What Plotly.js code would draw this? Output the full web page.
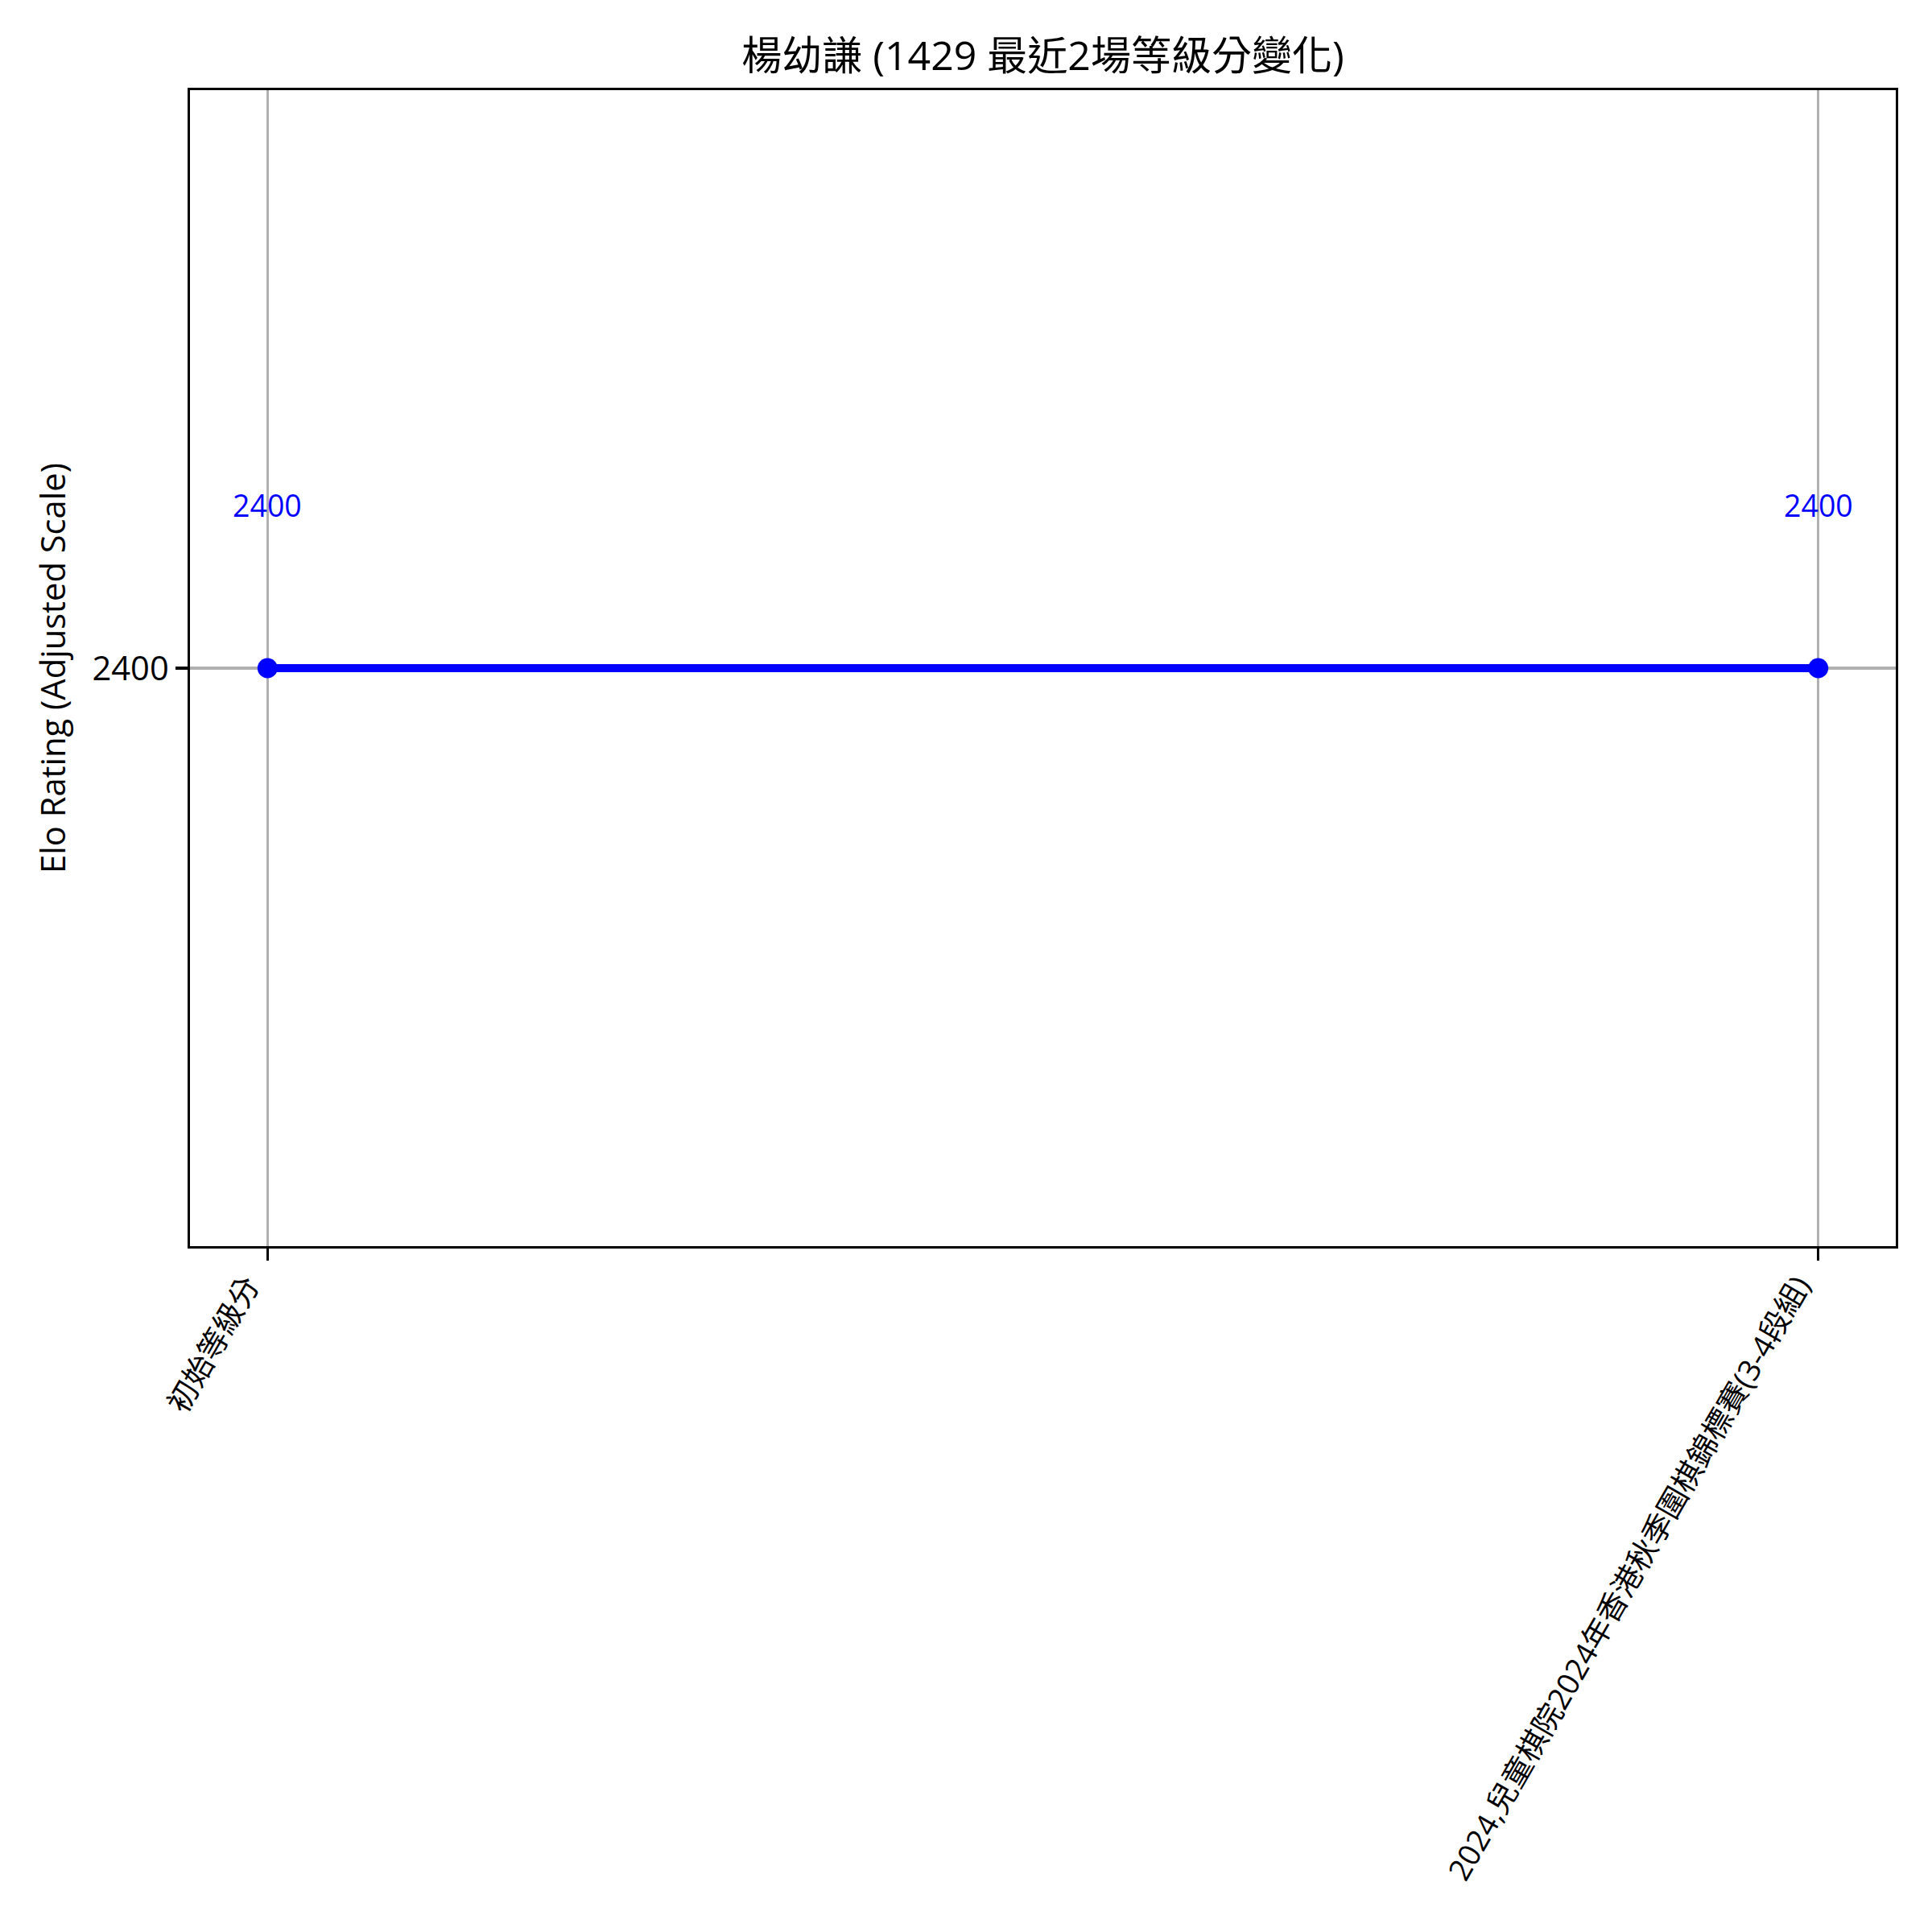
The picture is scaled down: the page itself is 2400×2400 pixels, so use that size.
<!DOCTYPE html>
<html>
<head>
<meta charset="utf-8">
<script src="https://cdn.plot.ly/plotly-3.0.1.min.js"></script>
<style>html,body{margin:0;padding:0;background:#fff;}</style>
</head>
<body>
<div id="chart" style="width:2400px;height:2400px;"></div>
<script>
const categories = ["初始等級分", "2024,兒童棋院2024年香港秋季圍棋錦標賽(3-4段組)"];
const ratings = [2400, 2400];
const ratingLabels = ["2400", "2400"];
const yTicks = [2400];
const chartTitle = "楊幼謙 (1429 最近2場等級分變化)";
const yTitle = "Elo Rating (Adjusted Scale)";

const FONT = "Open Sans, Noto Sans CJK TC, sans-serif";

const trace = {
  x: categories,
  y: ratings,
  type: "scatter",
  mode: "lines+markers",
  line: {color: "#0000ff", width: 10},
  marker: {color: "#0000ff", size: 25},
  hoverinfo: "skip",
  showlegend: false
};

const annotations = categories.map((c, i) => ({
  x: c, y: ratings[i], xref: "x", yref: "y",
  text: ratingLabels[i], showarrow: false,
  yshift: 203, yanchor: "middle", xanchor: "center",
  font: {family: FONT, size: 37.5, color: "#0000ff"}
}));

const layout = {
  width: 2400, height: 2400,
  paper_bgcolor: "#ffffff", plot_bgcolor: "#ffffff",
  margin: {l: 236, r: 45, t: 112, b: 852, pad: 0},
  font: {family: FONT, color: "#000000"},
  title: {
    text: chartTitle,
    font: {family: FONT, size: 50, color: "#000000"},
    x: 0.5, xref: "paper", xanchor: "center",
    y: 1 - 69/2400, yref: "container", yanchor: "middle"
  },
  xaxis: {
    type: "category",
    range: [-0.05, 1.05],
    showline: true, linecolor: "#000000", linewidth: 3.3, mirror: true,
    showgrid: true, gridcolor: "#b0b0b0", gridwidth: 3.3,
    zeroline: false,
    ticks: "outside", ticklen: 14.6, tickwidth: 3.3, tickcolor: "#000000",
    tickangle: -60,
    ticklabelshift: -25,
    ticklabelstandoff: -6,
    tickfont: {family: FONT, size: 37.5, color: "#000000"},
    automargin: false
  },
  yaxis: {
    range: [2300, 2500],
    tickvals: yTicks,
    ticktext: yTicks.map(String),
    showline: true, linecolor: "#000000", linewidth: 3.3, mirror: true,
    showgrid: true, gridcolor: "#b0b0b0", gridwidth: 3.3,
    zeroline: false,
    ticks: "outside", ticklen: 14.6, tickwidth: 3.3, tickcolor: "#000000",
    tickfont: {family: FONT, size: 41.7, color: "#000000"},
    title: {text: yTitle, font: {family: FONT, size: 41.7, color: "#000000"}, standoff: 20},
    automargin: false
  },
  annotations: annotations,
  hovermode: false
};

Plotly.newPlot("chart", [trace], layout, {staticPlot: true, displayModeBar: false});
</script>
</body>
</html>
